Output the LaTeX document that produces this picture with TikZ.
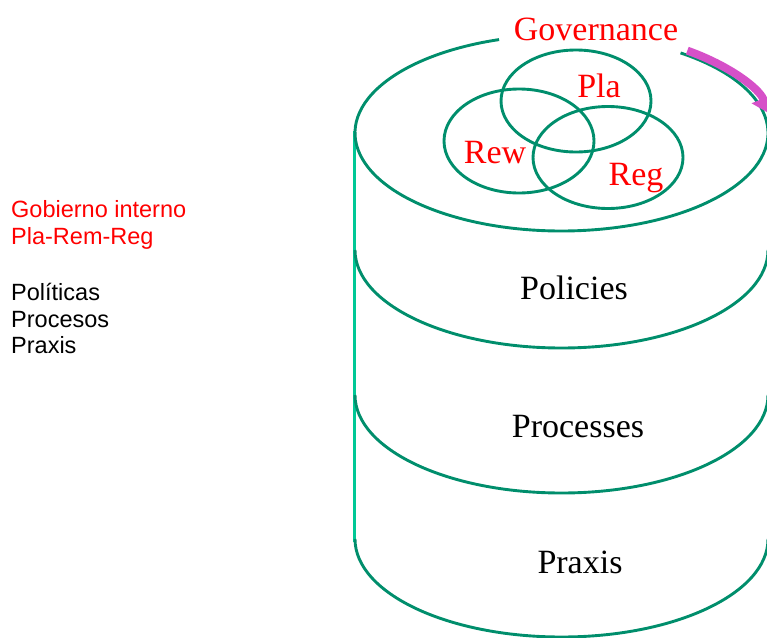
\documentclass[tikz,border=0pt]{standalone}
\usepackage{fontspec}
\setmainfont{Liberation Serif}
\newfontfamily\arialfont{Liberation Sans}
\usetikzlibrary{arrows.meta}
\definecolor{cylgreen}{RGB}{0,142,108}
\definecolor{edgeteal}{RGB}{0,200,150}
\definecolor{arrowmag}{RGB}{214,80,200}
\definecolor{labred}{RGB}{255,0,0}
\tikzset{
  cylline/.style={draw=cylgreen, line width=2.9pt},
  venn/.style={draw=cylgreen, line width=2.9pt},
  biglabel/.style={font=\fontsize{34}{40}\selectfont, inner sep=0pt, anchor=base},
  redlabel/.style={biglabel, text=labred},
  sidetext/.style={font=\arialfont\fontsize{23.5}{27}\selectfont, inner sep=0pt, anchor=base west},
}
\begin{document}
\begin{tikzpicture}[x=1pt, y=-1pt]
\useasboundingbox (0,0) rectangle (767,637);
\clip (0,0) rectangle (767,637);
% left vertical edge
\draw[draw=edgeteal, line width=3pt] (354,131) coordinate (edgetop) -- (354,542) coordinate (edgebot);
% top ellipse with gap for title
\draw[cylline] (561.5,133) ++(305.2:206.5 and 98) arc[start angle=305.2, end angle=612.4, x radius=206.5, y radius=98];
% layer bottoms
\draw[cylline] (355,250) arc[start angle=180, end angle=0, x radius=206.5, y radius=98];
\draw[cylline] (355,395) arc[start angle=180, end angle=0, x radius=206.5, y radius=98];
\draw[cylline] (355,539) arc[start angle=180, end angle=0, x radius=206.5, y radius=98];
% Venn ellipses
\draw[venn] (576,101) ellipse[x radius=75, y radius=51];
\draw[venn] (519,141) ellipse[x radius=75, y radius=52];
\draw[venn] (608,157.5) ellipse[x radius=75, y radius=51];
% magenta arrow
\draw[draw=arrowmag, line width=8pt, -{Triangle[length=16pt, width=24pt]}]
  (561.5,133) ++(306.5:211.5 and 102.5) arc[start angle=306.5, end angle=349, x radius=211.5, y radius=102.5];
% labels
\node[redlabel] (gov) at (596,40) {Governance};
\node[redlabel] (pla) at (599,97) {Pla};
\node[redlabel] (rew) at (495,163) {Rew};
\node[redlabel] (reg) at (636,185) {Reg};
\node[biglabel] (pol) at (574,299) {Policies};
\node[biglabel] (proc) at (578,437) {Processes};
\node[biglabel] (prax) at (580,573) {Praxis};
% side text
\node[sidetext, text=labred] (gi) at (11,217) {Gobierno interno};
\node[sidetext, text=labred] (prr) at (11,244) {Pla-Rem-Reg};
\node[sidetext] (pols) at (11,300) {Políticas};
\node[sidetext] (procs) at (11,327) {Procesos};
\node[sidetext] (praxs) at (11,353) {Praxis};
\end{tikzpicture}
\end{document}
